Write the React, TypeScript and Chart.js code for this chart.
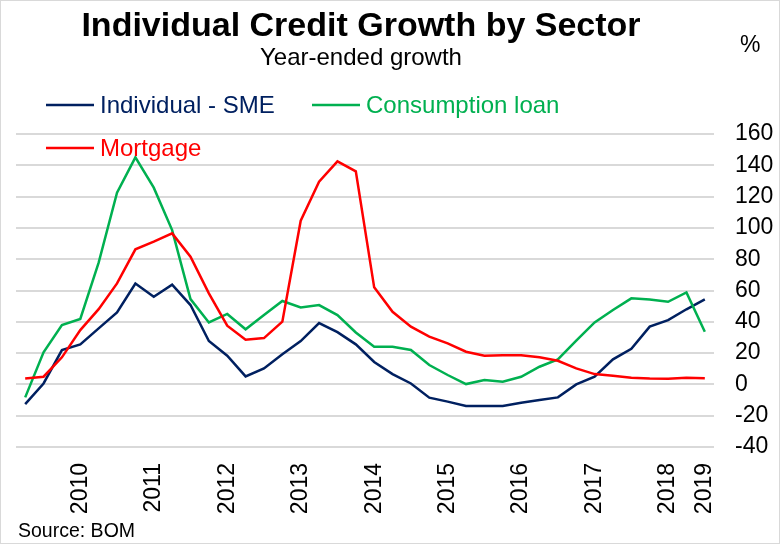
import React, { useEffect, useRef } from "react";
import { Chart, registerables } from "chart.js";

Chart.register(...registerables);

const TITLE = "Individual Credit Growth by Sector";
const SUBTITLE = "Year-ended growth";
const UNIT = "%";
const SOURCE = "Source: BOM";

const xLabels = [
  "", "", "", "2010", "", "", "", "2011", "", "", "", "2012", "", "", "", "2013",
  "", "", "", "2014", "", "", "", "2015", "", "", "", "2016", "", "", "", "2017",
  "", "", "", "2018", "", "2019",
];

const smeValues = [
  -12.6, 0.6, 21.9, 25.6, 35.8, 46.0, 64.5, 56.0, 63.7, 50.7, 27.7, 18.3, 5.1, 10.2,
  19.2, 27.7, 39.2, 33.4, 25.6, 14.3, 6.6, 0.6, -8.5, -11.0, -13.8, -13.8, -13.8,
  -11.7, -10.0, -8.3, 0.0, 4.9, 16.0, 22.8, 36.9, 41.1, 48.0, 54.3,
];

const consumptionValues = [
  -8.3, 20.5, 37.9, 41.8, 77.8, 122.5, 145.1, 125.7, 98.6, 54.5, 39.6, 45.0, 35.2,
  44.3, 53.3, 49.2, 50.7, 44.3, 33.2, 24.1, 24.1, 22.0, 12.4, 6.0, 0.2, 2.8, 1.7,
  4.9, 11.3, 16.0, 27.9, 39.6, 47.5, 55.0, 54.3, 52.8, 58.8, 33.7,
];

const mortgageValues = [
  3.8, 4.9, 17.3, 34.7, 48.1, 64.5, 86.3, 91.2, 96.5, 81.6, 58.2, 37.5, 28.5, 29.6,
  40.1, 104.6, 129.5, 142.5, 136.1, 62.0, 46.4, 36.9, 30.5, 26.2, 20.9, 18.3, 18.7,
  18.7, 17.3, 15.1, 10.2, 6.6, 5.5, 4.3, 3.8, 3.6, 4.3, 4.0,
];

const seriesNames = ["Individual - SME", "Consumption loan", "Mortgage"];
const seriesColors = ["#002060", "#00B050", "#FF0000"];

const FONT = "'Liberation Sans', Arial, sans-serif";

const overlayPlugin = {
  id: "overlay",
  afterDatasetsDraw(chart: any) {
    const ctx = chart.ctx;
    ctx.save();
    ctx.fillStyle = "#000";
    ctx.textBaseline = "alphabetic";
    // title
    ctx.font = `bold 34px ${FONT}`;
    ctx.textAlign = "center";
    ctx.fillText(TITLE, 361, 36);
    ctx.font = `24px ${FONT}`;
    ctx.fillText(SUBTITLE, 361, 65);
    ctx.textAlign = "left";
    ctx.font = `23px ${FONT}`;
    ctx.fillText(UNIT, 740, 52);
    ctx.font = `19.5px ${FONT}`;
    ctx.fillText(SOURCE, 18, 537);

    // legend
    const items = [
      { x: 46, y: 105, base: 113 },
      { x: 312, y: 105, base: 113 },
      { x: 46, y: 148, base: 156 },
    ];
    ctx.font = `24px ${FONT}`;
    items.forEach((it, i) => {
      ctx.strokeStyle = seriesColors[i];
      ctx.lineWidth = 2.5;
      ctx.beginPath();
      ctx.moveTo(it.x, it.y);
      ctx.lineTo(it.x + 48, it.y);
      ctx.stroke();
      ctx.fillStyle = seriesColors[i];
      ctx.fillText(seriesNames[i], it.x + 54, it.base);
    });

    // frame
    ctx.strokeStyle = "#d9d9d9";
    ctx.lineWidth = 1;
    ctx.strokeRect(0.5, 0.5, 779, 543);
    ctx.restore();
  },
};

export default function App() {
  const canvasRef = useRef<HTMLCanvasElement | null>(null);

  useEffect(() => {
    const canvas = canvasRef.current;
    if (!canvas) return;
    const values = [smeValues, consumptionValues, mortgageValues];
    const chart = new Chart(canvas, {
      type: "line",
      data: {
        labels: xLabels,
        datasets: values.map((v, i) => ({
          label: seriesNames[i],
          data: v,
          borderColor: seriesColors[i],
          backgroundColor: seriesColors[i],
          borderWidth: 2.5,
          pointRadius: 0,
          tension: 0,
          fill: false,
          order: 2 - i,
        })),
      },
      options: {
        responsive: false,
        animation: false,
        devicePixelRatio: 1,
        layout: { padding: { top: 134, left: 16, right: 0, bottom: 0 } },
        plugins: {
          legend: { display: false },
          title: { display: false },
          tooltip: { enabled: false },
        },
        scales: {
          x: {
            type: "category",
            offset: true,
            grid: { display: false, drawTicks: false },
            border: { display: false },
            ticks: {
              autoSkip: false,
              maxRotation: 90,
              minRotation: 90,
              padding: 16,
              color: "#000",
              font: { family: FONT, size: 23 },
            },
            afterFit: (s: any) => {
              s.height = 97;
              s.paddingLeft = 0;
              s.paddingRight = 0;
            },
          },
          y: {
            position: "right",
            min: -40,
            max: 160,
            grid: { color: "#d9d9d9", lineWidth: 2, drawTicks: false },
            border: { display: false },
            ticks: {
              stepSize: 20,
              padding: 21,
              color: "#000",
              font: { family: FONT, size: 23 },
            },
            afterFit: (s: any) => {
              s.width = 66;
              s.paddingTop = 0;
              s.paddingBottom = 0;
            },
          },
        },
      },
      plugins: [overlayPlugin],
    });
    return () => chart.destroy();
  }, []);

  return (
    <div style={{ position: "fixed", left: 0, top: 0, width: 780, height: 544, background: "#fff" }}>
      <canvas ref={canvasRef} width={780} height={544} style={{ width: 780, height: 544, display: "block" }} />
    </div>
  );
}
